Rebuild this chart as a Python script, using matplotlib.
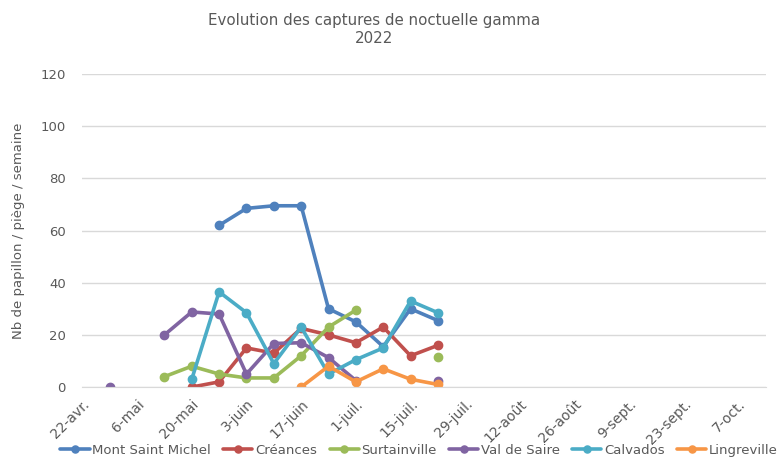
import numpy as np
import matplotlib
matplotlib.use('Agg')
import matplotlib.pyplot as plt
import matplotlib.dates as mdates
from datetime import date

nan = np.nan

# weekly trap dates (2022)
dates = [date(2022, 4, 29), date(2022, 5, 6), date(2022, 5, 13), date(2022, 5, 20),
         date(2022, 5, 27), date(2022, 6, 3), date(2022, 6, 10), date(2022, 6, 17),
         date(2022, 6, 24), date(2022, 7, 1), date(2022, 7, 8), date(2022, 7, 15),
         date(2022, 7, 22)]

mont_saint_michel = [nan, nan, nan, nan, 62, 68.5, 69.5, 69.5, 30, 25, 15.5, 30, 25.5]
creances = [nan, nan, nan, 0, 2, 15, 13, 22.5, 20, 17, 23, 12, 16]
surtainville = [nan, nan, 4, 8, 5, 3.5, 3.5, 12, 23, 29.5, nan, nan, 11.5]
val_de_saire = [0, nan, 20, 28.8, 28, 5, 16.7, 17, 11.3, 2.5, nan, nan, 2.2]
calvados = [nan, nan, nan, 3, 36.5, 28.5, 9, 23, 5, 10.5, 15, 33, 28.5]
lingreville = [nan, nan, nan, nan, nan, nan, nan, 0, 8, 2, 7, 3, 1]

series_names = ['Mont Saint Michel', 'Créances', 'Surtainville', 'Val de Saire',
                'Calvados', 'Lingreville']
series_values = [mont_saint_michel, creances, surtainville, val_de_saire, calvados, lingreville]
colors = ['#4F81BD', '#C0504D', '#9BBB59', '#8064A2', '#4BACC6', '#F79646']

tick_dates = [date(2022, 4, 22), date(2022, 5, 6), date(2022, 5, 20), date(2022, 6, 3),
              date(2022, 6, 17), date(2022, 7, 1), date(2022, 7, 15), date(2022, 7, 29),
              date(2022, 8, 12), date(2022, 8, 26), date(2022, 9, 9), date(2022, 9, 23),
              date(2022, 10, 7)]
tick_labels = ['22-avr.', '6-mai', '20-mai', '3-juin', '17-juin', '1-juil.', '15-juil.',
               '29-juil.', '12-août', '26-août', '9-sept.', '23-sept.', '7-oct.']

text_col = '#595959'

fig = plt.figure(figsize=(7.77, 4.57), dpi=100)
ax = fig.add_axes([0.106, 0.153, 0.880, 0.685])

x = mdates.date2num(dates)
for name, vals, c in zip(series_names, series_values, colors):
    ax.plot(x, vals, color=c, lw=2.6, marker='o', ms=6, label=name,
            solid_capstyle='round', solid_joinstyle='round')

ax.set_xlim(mdates.date2num(date(2022, 4, 22)), mdates.date2num(date(2022, 10, 14)))
ax.set_ylim(0, 120)
ax.set_yticks(range(0, 121, 20))
ax.set_xticks(mdates.date2num(tick_dates))
ax.set_xticklabels(tick_labels, rotation=45, ha='right', rotation_mode='anchor')
ax.yaxis.grid(True, color='#D9D9D9', lw=1)
ax.set_axisbelow(True)
for s in ['top', 'right', 'left']:
    ax.spines[s].set_visible(False)
ax.spines['bottom'].set_color('#D9D9D9')
ax.tick_params(axis='both', length=0, colors=text_col, labelsize=9.5)
ax.tick_params(axis='x', labelsize=10, pad=7)
ax.tick_params(axis='y', pad=12)

ax.set_ylabel('Nb de papillon / piège / semaine', color=text_col, fontsize=9.5, labelpad=11)
fig.suptitle('Evolution des captures de noctuelle gamma\n2022', color=text_col,
             fontsize=10.8, y=0.972, x=0.482, linespacing=1.25)

ax.legend(loc='center left', bbox_to_anchor=(-0.032, -0.202), ncol=6, frameon=False,
          fontsize=9.5, labelcolor=text_col, handlelength=2.2, handletextpad=0.2,
          columnspacing=0.95, borderaxespad=0, borderpad=0, markerscale=0.85)

plt.savefig('out.png', dpi=100)
